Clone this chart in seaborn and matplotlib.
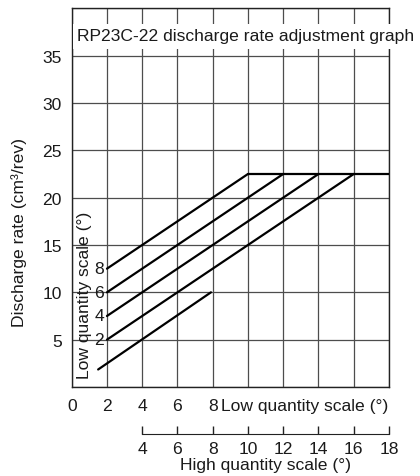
import matplotlib
matplotlib.use('Agg')
import matplotlib.pyplot as plt
from matplotlib.patches import Rectangle
import seaborn as sns
import pandas as pd

# ---- data ----
series_names = ['A', '2', '4', '6', '8', 'top']
start_x = [1.5, 2.0, 2.0, 2.0, 2.0, 10.0]
start_y = [1.85, 5.0, 7.5, 10.0, 12.5, 22.5]
end_x = [7.9, 16.0, 14.0, 12.0, 10.0, 18.0]
end_y = [10.0, 22.5, 22.5, 22.5, 22.5, 22.5]
line_labels = ['2', '4', '6', '8']
line_label_y = [5.0, 7.5, 10.0, 12.5]
y_ticks = [5, 10, 15, 20, 25, 30, 35]
low_ticks = [0, 2, 4, 6, 8]
high_ticks = [4, 6, 8, 10, 12, 14, 16, 18]
title = 'RP23C-22 discharge rate adjustment graph'
ylabel = 'Discharge rate (cm³/rev)'
low_label = 'Low quantity scale (°)'
high_label = 'High quantity scale (°)'

rows = []
for n, x0, y0, x1, y1 in zip(series_names, start_x, start_y, end_x, end_y):
    rows.append({'seg': n, 'x': x0, 'y': y0})
    rows.append({'seg': n, 'x': x1, 'y': y1})
df = pd.DataFrame(rows)

sns.set_style('white')
plt.rcParams['font.family'] = ['Liberation Sans', 'DejaVu Sans']
TXT = '#1a1a1a'
FS = 12.6

fig = plt.figure(figsize=(4.2, 4.77), dpi=100)
L, R, T, B = 71.7, 389.0, 9.3, 388.0
W, H = 420, 477
ax = fig.add_axes([L / W, 1 - B / H, (R - L) / W, (B - T) / H])

sns.lineplot(data=df, x='x', y='y', units='seg', estimator=None,
             color='black', linewidth=1.6, ax=ax, legend=False, zorder=3)

ax.set_xlim(0, 18)
ax.set_ylim(0, 40)
ax.set_xticks(list(range(0, 19, 2)))
ax.set_xticklabels([str(t) if t in low_ticks else '' for t in range(0, 19, 2)])
ax.set_yticks(list(range(0, 41, 5)))
ax.set_yticklabels([str(t) if t in y_ticks else '' for t in range(0, 41, 5)])
ax.grid(True, color='#4d4d4d', linewidth=0.9)
ax.set_axisbelow(True)
ax.tick_params(length=0, labelsize=FS, colors=TXT, pad=8)
ax.tick_params(axis='y', pad=7)
for s in ax.spines.values():
    s.set_color('#222222')
    s.set_linewidth(1.0)
ax.set_xlabel('')
ax.set_ylabel(ylabel, fontsize=FS, color=TXT)
ax.yaxis.set_label_coords(-0.141, 0.41)

# title band
ax.add_patch(Rectangle((0.06, 35.75), 19.6, 2.62, facecolor='white',
                       edgecolor='none', clip_on=False, zorder=3))
ax.text(0.28, 37.1, title, fontsize=FS, color=TXT, ha='left', va='center',
        clip_on=False, zorder=4)

# rotated inside label and line labels
ax.text(0.72, 0.95, low_label, rotation=90, rotation_mode='anchor', fontsize=FS,
        color=TXT, ha='left', va='center')
for lab, yy in zip(line_labels, line_label_y):
    ax.text(1.85, yy, lab, fontsize=FS, color=TXT, ha='right', va='center')

# low x label
ax.text(8.45, -2.0, low_label, fontsize=FS, color=TXT, ha='left', va='center',
        clip_on=False)

# secondary (high) scale
sec = ax.secondary_xaxis(location=-0.124)
sec.set_xticks(high_ticks)
sec.set_xticklabels([str(t) for t in high_ticks])
sec.spines['bottom'].set_bounds(4, 18)
sec.spines['bottom'].set_color('#222222')
sec.tick_params(direction='in', length=6, width=1.0, color='#222222',
                labelsize=FS, labelcolor=TXT, pad=5)
ax.text(11, -8.2, high_label, fontsize=FS, color=TXT, ha='center', va='center',
        clip_on=False)

fig.savefig('out.png', dpi=100)
